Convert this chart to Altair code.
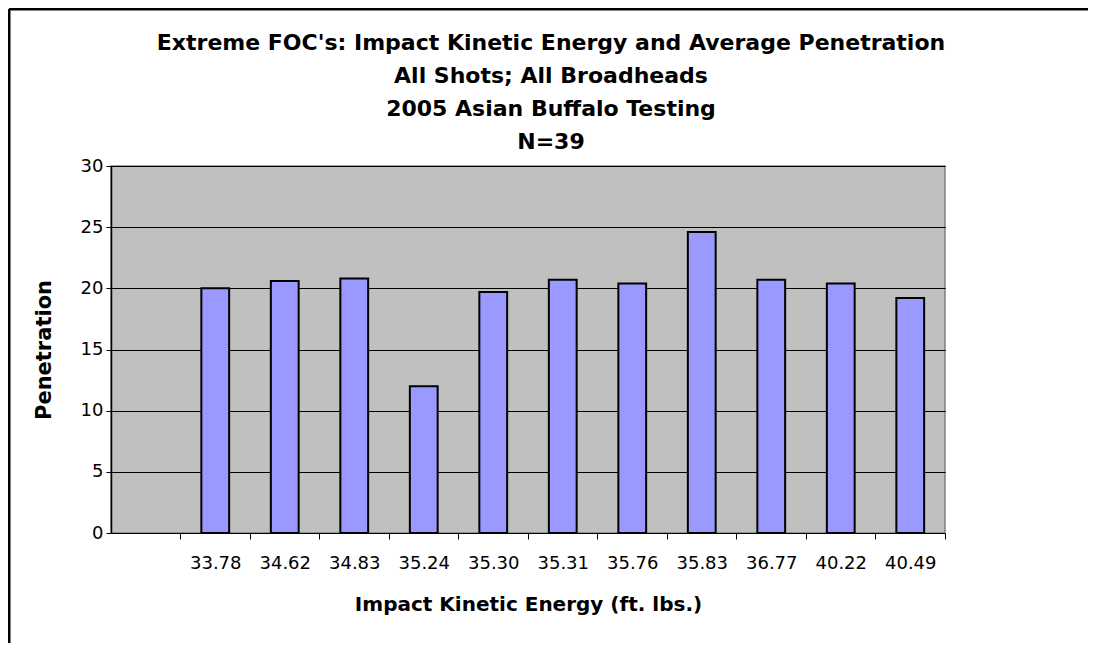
import altair as alt
import pandas as pd

energy = ["33.78", "34.62", "34.83", "35.24", "35.30", "35.31", "35.76", "35.83", "36.77", "40.22", "40.49"]
penetration = [20.0, 20.6, 20.8, 12.0, 19.7, 20.7, 20.4, 24.6, 20.7, 20.4, 19.2]
x_domain = [" "] + energy
title_lines = [
    "Extreme FOC's: Impact Kinetic Energy and Average Penetration",
    "All Shots; All Broadheads",
    "2005 Asian Buffalo Testing",
    "N=39",
]

df = pd.DataFrame({"energy": energy, "penetration": penetration})

FONT = "DejaVu Sans"

x_enc = alt.X(
    "energy:N",
    sort=x_domain,
    scale=alt.Scale(domain=x_domain, paddingInner=0.6, paddingOuter=0.3),
    axis=alt.Axis(
        title="Impact Kinetic Energy (ft. lbs.)",
        labelAngle=0,
        tickOffset=34.75,
        labelOffset=-34.75,
        tickSize=6,
        tickColor="#000000",
        domain=False,
        labelFont=FONT,
        labelFontSize=18,
        labelColor="#000000",
        labelPadding=15,
        titleFont=FONT,
        titleFontSize=20,
        titleFontWeight="bold",
        titleColor="#000000",
        titlePadding=22,
        grid=False,
    ),
)

y_enc = alt.Y(
    "penetration:Q",
    scale=alt.Scale(domain=[0, 30], nice=False),
    axis=alt.Axis(
        title="Penetration",
        values=[0, 5, 10, 15, 20, 25, 30],
        tickSize=5,
        tickColor="#000000",
        domainColor="#000000",
        domainWidth=1.5,
        gridColor="#000000",
        gridWidth=1,
        labelFont=FONT,
        labelFontSize=18,
        labelColor="#000000",
        labelPadding=3,
        titleFont=FONT,
        titleFontSize=21,
        titleFontWeight="bold",
        titleColor="#000000",
        titlePadding=26,
    ),
)

bars = alt.Chart(df).mark_bar(
    fill="#9999FF", stroke="#000000", strokeWidth=2
).encode(x=x_enc, y=y_enc)

dummy = pd.DataFrame({"a": [0]})
frame_left = alt.Chart(dummy).mark_rule(color="#000000", strokeWidth=3).encode(
    x=alt.value(-102), y=alt.value(-157), y2=alt.value(490)
)
frame_top = alt.Chart(dummy).mark_rule(color="#000000", strokeWidth=3).encode(
    x=alt.value(-102), x2=alt.value(977), y=alt.value(-157)
)

chart = alt.layer(bars, frame_left, frame_top).properties(
    width=834,
    height=367,
    title=alt.TitleParams(
        text=title_lines,
        font=FONT,
        fontSize=22,
        fontWeight="bold",
        lineHeight=33,
        color="#000000",
        anchor="middle",
        dx=23,
        offset=-146.5,
    ),
    autosize=alt.AutoSizeParams(type="none"),
    padding={"left": 103, "top": 158, "right": 144, "bottom": 110},
).configure(
    background="#FFFFFF",
    view=alt.ViewConfig(fill="#C0C0C0", stroke="#808080", strokeWidth=1.5),
)

chart.save("out.html", embed_options={"renderer": "svg", "actions": False})
